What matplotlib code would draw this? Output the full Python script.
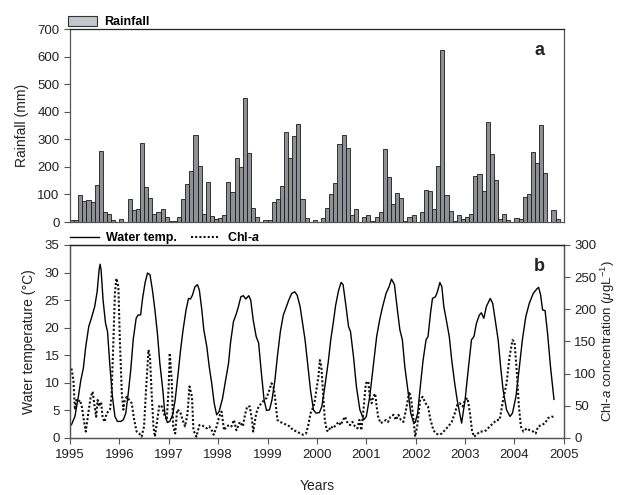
import numpy as np
import matplotlib
matplotlib.use("Agg")
import matplotlib.pyplot as plt
from matplotlib.patches import Patch
from matplotlib.lines import Line2D

plt.rcParams['font.family'] = ['Liberation Sans', 'DejaVu Sans']
plt.rcParams['mathtext.fontset'] = 'custom'
plt.rcParams['mathtext.rm'] = 'Liberation Sans'
plt.rcParams['mathtext.it'] = 'Liberation Sans:italic'
plt.rcParams['mathtext.bf'] = 'Liberation Sans:bold'
plt.rcParams['mathtext.bfit'] = 'Liberation Sans:bold:italic'

# monthly rainfall (mm), Jan 1995 - Nov 2004
rain_mm = [6, 6, 97, 75, 79, 72, 134, 258, 37, 30, 6, 0,
           10, 0, 82, 45, 49, 289, 128, 89, 28, 38, 49, 18,
           4, 4, 18, 82, 138, 185, 317, 203, 30, 144, 23, 12,
           16, 24, 147, 110, 231, 200, 450, 250, 52, 18, 1, 6,
           6, 73, 85, 132, 329, 231, 311, 357, 85, 15, 1, 8,
           0, 16, 51, 101, 141, 283, 315, 270, 27, 49, 0, 18,
           26, 5, 19, 38, 264, 162, 65, 107, 87, 5, 17, 27,
           1, 37, 118, 111, 49, 205, 626, 97, 39, 5, 27, 10,
           18, 30, 169, 173, 114, 363, 248, 151, 10, 30, 6, 0,
           16, 11, 90, 101, 256, 213, 352, 177, 1, 45, 11]

# water temperature (deg C)
temp_year = [1995.03, 1995.10, 1995.17, 1995.22, 1995.27, 1995.32, 1995.38, 1995.44, 1995.50,
             1995.55, 1995.59, 1995.61, 1995.63, 1995.67, 1995.72, 1995.76, 1995.81, 1995.86,
             1995.91, 1995.96, 1996.03, 1996.08, 1996.13, 1996.18, 1996.23, 1996.28, 1996.34,
             1996.38, 1996.43, 1996.47, 1996.52, 1996.57, 1996.62, 1996.67, 1996.72, 1996.77,
             1996.82, 1996.88, 1996.92, 1996.97, 1997.02, 1997.08, 1997.13, 1997.19, 1997.24,
             1997.29, 1997.35, 1997.40, 1997.44, 1997.48, 1997.53, 1997.58, 1997.62, 1997.67,
             1997.71, 1997.77, 1997.82, 1997.87, 1997.92, 1997.97, 1998.02, 1998.09, 1998.14,
             1998.21, 1998.25, 1998.31, 1998.36, 1998.41, 1998.46, 1998.51, 1998.56, 1998.62,
             1998.66, 1998.71, 1998.77, 1998.82, 1998.87, 1998.93, 1998.98, 1999.04, 1999.09,
             1999.15, 1999.20, 1999.26, 1999.32, 1999.37, 1999.43, 1999.49, 1999.55, 1999.60,
             1999.66, 1999.71, 1999.76, 1999.82, 1999.87, 1999.93, 1999.98, 2000.05, 2000.10,
             2000.16, 2000.23, 2000.28, 2000.33, 2000.38, 2000.44, 2000.49, 2000.53, 2000.59,
             2000.64, 2000.68, 2000.74, 2000.80, 2000.87, 2000.95, 2001.00, 2001.07, 2001.14,
             2001.21, 2001.27, 2001.33, 2001.40, 2001.46, 2001.51, 2001.57, 2001.63, 2001.68,
             2001.73, 2001.78, 2001.85, 2001.90, 2001.95, 2001.99, 2002.04, 2002.10, 2002.15,
             2002.21, 2002.25, 2002.30, 2002.34, 2002.40, 2002.44, 2002.49, 2002.53, 2002.57,
             2002.62, 2002.68, 2002.73, 2002.79, 2002.84, 2002.89, 2002.93, 2003.00, 2003.07,
             2003.13, 2003.18, 2003.23, 2003.29, 2003.33, 2003.38, 2003.43, 2003.51, 2003.56,
             2003.61, 2003.67, 2003.72, 2003.77, 2003.84, 2003.91, 2003.96, 2004.03, 2004.10,
             2004.16, 2004.23, 2004.30, 2004.38, 2004.46, 2004.49, 2004.53, 2004.57, 2004.62,
             2004.67, 2004.73, 2004.80]
temp_c = [2.4, 3.9, 7.5, 10.5, 12.6, 16.6, 20.2, 21.9, 23.8,
          26.5, 30.5, 31.5, 30.5, 25.0, 20.8, 19.3, 12.9, 7.5,
          3.9, 3.0, 3.0, 3.3, 4.5, 8.1, 12.3, 17.8, 21.7,
          22.3, 22.3, 25.3, 28.1, 29.9, 29.6, 26.8, 23.2, 19.0,
          13.5, 8.7, 4.5, 2.8, 3.0, 4.2, 6.9, 11.7, 16.0,
          19.6, 23.2, 25.3, 25.2, 25.9, 27.4, 27.8, 26.8, 23.2,
          19.6, 16.6, 12.9, 9.9, 6.3, 4.2, 4.8, 7.2, 9.9,
          13.5, 17.2, 21.1, 22.3, 23.8, 25.6, 25.8, 25.2, 25.8,
          25.0, 21.4, 18.4, 17.2, 12.3, 6.9, 5.0, 5.1, 6.9,
          10.5, 14.8, 19.3, 22.3, 23.5, 25.0, 26.2, 26.5, 25.9,
          23.8, 20.8, 17.8, 12.9, 8.7, 5.1, 4.5, 4.6, 5.7,
          9.3, 13.8, 17.8, 20.8, 24.1, 26.8, 28.2, 27.8, 23.8,
          20.2, 19.3, 14.8, 9.3, 5.1, 3.3, 3.9, 7.5, 12.9,
          18.4, 21.4, 23.8, 26.2, 27.4, 28.8, 27.8, 23.2, 19.6,
          17.8, 12.9, 8.1, 4.5, 3.0, 2.8, 4.5, 9.9, 14.1,
          17.8, 18.4, 22.6, 25.3, 25.6, 26.5, 28.2, 27.4, 23.8,
          21.4, 18.4, 14.1, 9.9, 6.9, 4.5, 2.7, 6.9, 12.9,
          17.8, 18.4, 20.8, 22.3, 22.7, 21.7, 23.8, 25.3, 24.4,
          21.4, 17.8, 12.9, 8.7, 5.1, 3.9, 4.5, 7.5, 12.9,
          17.8, 22.0, 24.4, 26.2, 27.1, 27.3, 25.9, 23.2, 23.1,
          19.0, 12.9, 7.0]

# chlorophyll-a (ug/L)
chl_year = [1995.03, 1995.07, 1995.10, 1995.13, 1995.17, 1995.20, 1995.24, 1995.28, 1995.32,
            1995.37, 1995.42, 1995.46, 1995.49, 1995.53, 1995.56, 1995.59, 1995.63, 1995.66,
            1995.70, 1995.74, 1995.81, 1995.84, 1995.88, 1995.91, 1995.94, 1995.98, 1996.01,
            1996.05, 1996.08, 1996.11, 1996.15, 1996.20, 1996.25, 1996.30, 1996.35, 1996.40,
            1996.45, 1996.50, 1996.54, 1996.59, 1996.62, 1996.65, 1996.69, 1996.72, 1996.75,
            1996.81, 1996.86, 1996.90, 1996.96, 1997.00, 1997.02, 1997.06, 1997.09, 1997.13,
            1997.17, 1997.23, 1997.28, 1997.33, 1997.38, 1997.42, 1997.47, 1997.50, 1997.53,
            1997.56, 1997.62, 1997.67, 1997.71, 1997.77, 1997.82, 1997.87, 1997.91, 1997.97,
            1998.02, 1998.07, 1998.12, 1998.17, 1998.23, 1998.27, 1998.32, 1998.37, 1998.44,
            1998.50, 1998.55, 1998.59, 1998.64, 1998.68, 1998.71, 1998.77, 1998.82, 1998.88,
            1998.93, 1998.98, 1999.04, 1999.08, 1999.12, 1999.15, 1999.20, 1999.25, 1999.32,
            1999.39, 1999.45, 1999.52, 1999.60, 1999.66, 1999.72, 1999.78, 1999.82, 1999.87,
            1999.93, 1999.96, 1999.99, 2000.03, 2000.06, 2000.09, 2000.13, 2000.16, 2000.20,
            2000.23, 2000.28, 2000.33, 2000.38, 2000.44, 2000.48, 2000.53, 2000.57, 2000.61,
            2000.67, 2000.72, 2000.77, 2000.82, 2000.86, 2000.90, 2000.95, 2000.99, 2001.04,
            2001.07, 2001.11, 2001.14, 2001.18, 2001.21, 2001.24, 2001.29, 2001.34, 2001.40,
            2001.44, 2001.49, 2001.55, 2001.60, 2001.65, 2001.70, 2001.75, 2001.81, 2001.87,
            2001.91, 2001.95, 2001.99, 2002.03, 2002.09, 2002.14, 2002.20, 2002.25, 2002.30,
            2002.36, 2002.41, 2002.47, 2002.53, 2002.59, 2002.66, 2002.73, 2002.79, 2002.84,
            2002.89, 2002.95, 2003.00, 2003.05, 2003.10, 2003.14, 2003.18, 2003.23, 2003.30,
            2003.37, 2003.43, 2003.50, 2003.57, 2003.64, 2003.70, 2003.77, 2003.84, 2003.90,
            2003.96, 2004.00, 2004.04, 2004.09, 2004.13, 2004.18, 2004.25, 2004.31, 2004.38,
            2004.43, 2004.48, 2004.55, 2004.62, 2004.68, 2004.75, 2004.79]
chl_val = [108, 90, 44, 59, 56, 59, 49, 28, 10,
           38, 64, 72, 54, 33, 59, 49, 56, 33,
           25, 38, 44, 64, 152, 225, 248, 235, 152,
           69, 44, 59, 64, 59, 54, 28, 10, 7,
           2, 18, 75, 137, 126, 75, 18, 2, 18,
           51, 49, 38, 28, 82, 132, 90, 18, 7,
           44, 41, 28, 18, 38, 80, 64, 12, 7,
           2, 20, 20, 18, 15, 18, 12, 5, 18,
           33, 41, 12, 18, 20, 18, 28, 12, 25,
           18, 38, 49, 49, 31, 10, 38, 49, 54,
           59, 62, 75, 85, 80, 64, 28, 25, 23,
           20, 18, 12, 10, 7, 5, 7, 18, 38,
           49, 59, 75, 95, 121, 111, 64, 28, 12,
           10, 18, 15, 20, 25, 20, 28, 33, 25,
           20, 25, 18, 15, 28, 12, 49, 85, 88,
           64, 54, 64, 69, 49, 33, 23, 25, 28,
           25, 33, 36, 28, 36, 28, 25, 46, 72,
           59, 33, 2, 18, 59, 64, 54, 49, 28,
           12, 7, 5, 7, 12, 18, 25, 38, 51,
           54, 49, 59, 62, 38, 12, 2, 5, 10,
           10, 12, 18, 23, 28, 28, 59, 85, 126,
           152, 150, 111, 49, 18, 10, 15, 12, 10,
           7, 18, 20, 23, 31, 33, 33]

rain_x = 1995 + (np.arange(len(rain_mm)) + 0.5) / 12.0
years = list(range(1995, 2006))

fig = plt.figure(figsize=(6.22, 4.95), dpi=100)
spine_col = '#555555'
txt_col = '#222222'

# ---- panel a: rainfall
ax1 = fig.add_axes([0.1125, 0.5515, 0.794, 0.389])
ax1.bar(rain_x, rain_mm, width=1/12.0, color='#8e9096', edgecolor='#1a1a1a', linewidth=0.6)
ax1.set_xlim(1995, 2005)
ax1.set_ylim(0, 700)
ax1.set_yticks(range(0, 701, 100))
ax1.set_xticks([])
ax1.set_ylabel('Rainfall (mm)', fontsize=10, labelpad=6, color=txt_col)
ax1.tick_params(axis='y', direction='out', length=4, width=0.8, labelsize=9.5,
                color=spine_col, labelcolor=txt_col)
for s in ax1.spines.values():
    s.set_color(spine_col)
    s.set_linewidth(0.9)
ax1.spines['top'].set_color('#222222')
ax1.text(0.951, 0.893, 'a', transform=ax1.transAxes, fontsize=13, fontweight='bold',
         ha='center', va='center', color=txt_col)
ax1.legend(handles=[Patch(facecolor='#c4c6cc', edgecolor='#333333', linewidth=0.8)],
           labels=['Rainfall'], loc='lower left', bbox_to_anchor=(-0.004, 1.005),
           frameon=False, borderpad=0, borderaxespad=0, handlelength=2.3, handleheight=0.9,
           handletextpad=0.6, prop={'weight': 'bold', 'size': 9})

# ---- panel b: water temperature and chl-a
ax2 = fig.add_axes([0.1125, 0.1152, 0.794, 0.390])
l1, = ax2.plot(temp_year, temp_c, color='black', linewidth=1.0)
ax2.set_xlim(1995, 2005)
ax2.set_ylim(0, 35)
ax2.set_yticks(range(0, 36, 5))
ax2.set_xticks(years)
ax2.set_xticklabels([str(y) for y in years])
ax2.set_xlabel('Years', fontsize=10, labelpad=13, color=txt_col)
ax2.set_ylabel('Water temperature (\u00b0C)', fontsize=10, labelpad=6, color=txt_col)
ax2.tick_params(direction='out', length=4, width=0.8, labelsize=9.5,
                color=spine_col, labelcolor=txt_col)
ax2.tick_params(axis='x', pad=4)

ax3 = ax2.twinx()
l2, = ax3.plot(chl_year, chl_val, color='#111111', linewidth=1.5, linestyle=(0, (1, 1)))
ax3.set_ylim(0, 300)
ax3.set_yticks(range(0, 301, 50))
ax3.set_ylabel(r'Chl-$a$ concentration ($\mu$gL$^{-1}$)', fontsize=9.5, labelpad=2,
               color=txt_col)
ax3.tick_params(direction='out', length=4, width=0.8, labelsize=9.5,
                color=spine_col, labelcolor=txt_col)
for ax in (ax2, ax3):
    for s in ax.spines.values():
        s.set_color(spine_col)
        s.set_linewidth(0.9)
    ax.spines['top'].set_color('#222222')

ax3.text(0.951, 0.886, 'b', transform=ax3.transAxes, fontsize=13, fontweight='bold',
         ha='center', va='center', color=txt_col)
ax3.legend(handles=[Line2D([], [], color='black', linewidth=1.0),
                    Line2D([], [], color='#111111', linewidth=1.5, linestyle=(0, (1, 1)))],
           labels=['Water temp.', r'Chl-$\mathbfit{a}$'], loc='lower left', ncol=2,
           bbox_to_anchor=(0.0, 1.005), frameon=False, borderpad=0, borderaxespad=0,
           handlelength=2.3, handletextpad=0.6, columnspacing=1.1,
           prop={'weight': 'bold', 'size': 9})

fig.savefig('out.png', dpi=100)
